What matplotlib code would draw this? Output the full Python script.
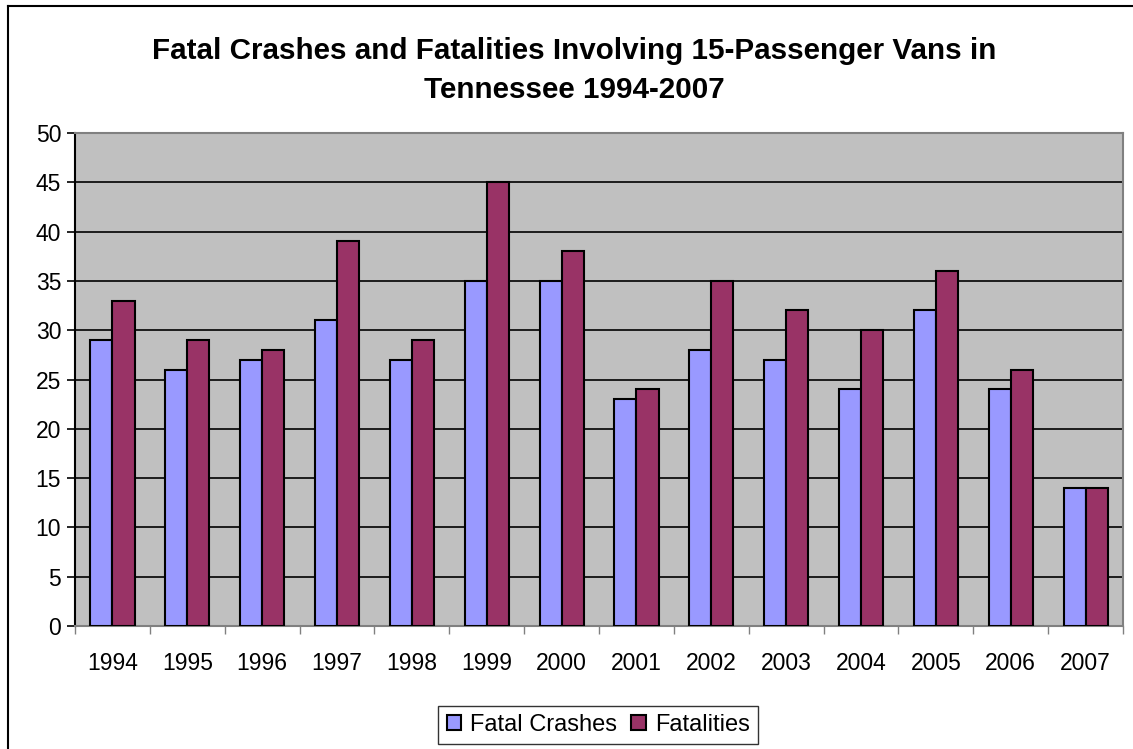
import numpy as np
import matplotlib.pyplot as plt
from matplotlib.lines import Line2D

plt.rcParams['font.family'] = ['Liberation Sans', 'DejaVu Sans']

years = ['1994', '1995', '1996', '1997', '1998', '1999', '2000',
         '2001', '2002', '2003', '2004', '2005', '2006', '2007']
fatal_crashes = [29, 26, 27, 31, 27, 35, 35, 23, 28, 27, 24, 32, 24, 14]
fatalities = [33, 29, 28, 39, 29, 45, 38, 24, 35, 32, 30, 36, 26, 14]

fig = plt.figure(figsize=(11.33, 7.49), dpi=100)
ax = fig.add_axes([0.0662, 0.1642, 0.9250, 0.6582])

x = np.arange(len(years))
w = 0.295
ax.bar(x - w / 2, fatal_crashes, w, color='#9999FF', edgecolor='black',
       linewidth=1.5, label='Fatal Crashes', zorder=3)
ax.bar(x + w / 2, fatalities, w, color='#993366', edgecolor='black',
       linewidth=1.5, label='Fatalities', zorder=3)

ax.set_facecolor('#C0C0C0')
ax.set_xlim(-0.5, len(years) - 0.5)
ax.set_ylim(0, 50)
ax.set_yticks(range(0, 51, 5))
ax.yaxis.grid(True, color='black', linewidth=1.2, zorder=1)
ax.set_axisbelow(True)

ax.set_xticks(x)
ax.set_xticklabels(years)
ax.set_xticks(np.arange(-0.5, len(years)), minor=True)
ax.tick_params(axis='x', which='major', length=0, pad=19, labelsize=16.5)
ax.tick_params(axis='x', which='minor', length=6, width=1, color='#808080')
ax.tick_params(axis='y', length=6, width=1.2, labelsize=16.5, pad=4)

for s in ['top', 'right']:
    ax.spines[s].set_color('#808080')
    ax.spines[s].set_linewidth(1.5)
ax.spines['left'].set_linewidth(1.5)
ax.spines['bottom'].set_linewidth(1.5)
ax.spines['bottom'].set_color('#808080')

fig.text(0.507, 0.906, 'Fatal Crashes and Fatalities Involving 15-Passenger Vans in\nTennessee 1994-2007',
         ha='center', va='center', fontsize=21.3, fontweight='bold', linespacing=1.5)

leg = fig.legend(loc='center', bbox_to_anchor=(0.528, 0.032), ncol=2,
                 fontsize=17, frameon=True, fancybox=False, handlelength=0.6,
                 handleheight=0.6, handletextpad=0.4, columnspacing=0.6,
                 borderpad=0.35)
leg.get_frame().set_edgecolor('black')
leg.get_frame().set_linewidth(1)

# outer chart border (left and top only visible)
fig.add_artist(Line2D([0.0071, 0.0071], [0, 0.992], color='black', linewidth=1.5))
fig.add_artist(Line2D([0.0071, 1.0], [0.992, 0.992], color='black', linewidth=1.5))

fig.savefig('out.png', dpi=100, facecolor='white')
